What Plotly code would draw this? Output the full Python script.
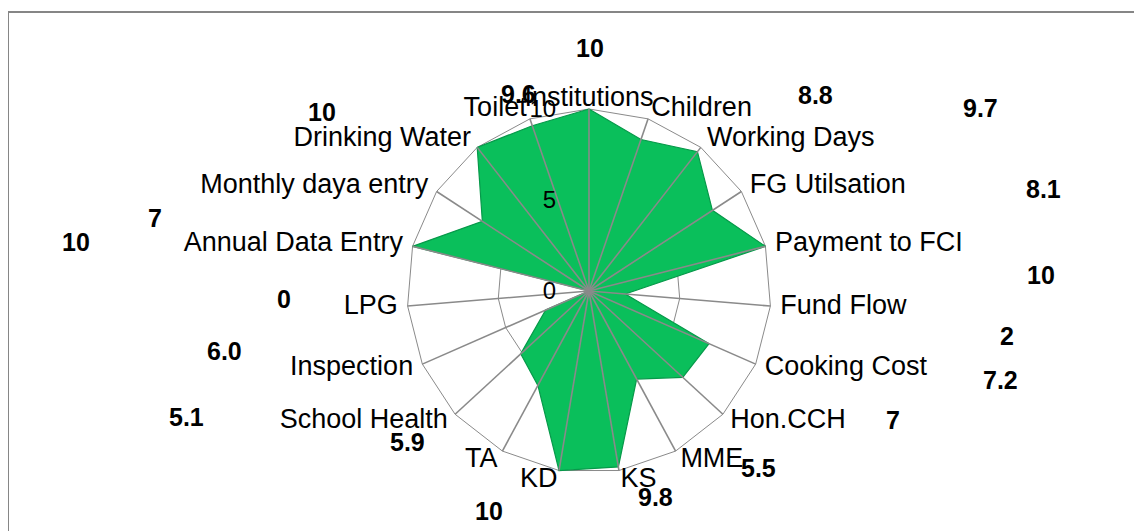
import plotly.graph_objects as go

# ---- data ----
categories = ["Institutions", "Children", "Working Days", "FG Utilsation", "Payment to FCI",
              "Fund Flow", "Cooking Cost", "Hon.CCH", "MME", "KS", "KD", "TA",
              "School Health", "Inspection", "LPG", "Annual Data Entry",
              "Monthly daya entry", "Drinking Water", "Toilet"]
values = [10, 8.8, 9.7, 8.1, 10, 2, 7.2, 7, 5.5, 9.8, 10, 5.9, 5.1, 2.6, 0, 10, 7, 10, 9.6]
label_text = ["10", "8.8", "9.7", "8.1", "10", "2", "7.2", "7", "5.5", "9.8", "10", "5.9",
              "5.1", "6.0", "0", "10", "7", "10", "9.6"]
radial_ticks = [0, 5, 10]

# ---- layout constants ----
W, H = 1142, 531
OFF = 8            # page body margin offset (screen px -> figure px)
CX, CY, R = 589, 291, 182   # screen pixels; R = pixel radius of the outer ring (r=10)
LABEL_PAD = 1.055  # category labels sit slightly outside the outer ring
RMAX = radial_ticks[-1] * LABEL_PAD
RD = R * LABEL_PAD  # pixel radius of the whole polar area
# data label positions (screen pixels from top-left), one per category
label_pos_px = [(590, 48), (815, 95), (980, 108), (1043, 189), (1041, 275), (1007, 336),
                (1000, 380), (893, 420), (758, 468), (655, 497), (489, 511), (407, 442),
                (186, 417), (224, 351), (284, 299), (76, 242), (155, 218), (322, 112),
                (518, 94)]


def fx(px):
    return (px - OFF) / W


def fy(py):
    return 1 - (py - OFF) / H


GRID = "#8A8A8A"
GREEN = "#0ABF5B"
FONT = "Arial, Liberation Sans, sans-serif"


def cat_textpos(i, n):
    a = 360.0 * i / n
    if a < 1 or a > 359 or abs(a - 180) < 1:
        return "middle center"
    return "middle right" if a < 180 else "middle left"


fig = go.Figure()

fig.add_trace(go.Scatterpolar(
    r=values + [values[0]],
    theta=categories + [categories[0]],
    mode="lines",
    fill="toself",
    fillcolor=GREEN,
    line=dict(color="#07994A", width=1.2),
    hoverinfo="skip",
    showlegend=False,
))

# spokes drawn above the fill
for c in categories:
    fig.add_trace(go.Scatterpolar(
        r=[radial_ticks[0], radial_ticks[-1]],
        theta=[c, c],
        mode="lines",
        line=dict(color=GRID, width=1.6),
        hoverinfo="skip",
        showlegend=False,
    ))

# category labels just outside the outer ring
fig.add_trace(go.Scatterpolar(
    r=[RMAX] * len(categories),
    theta=categories,
    mode="text",
    text=categories,
    textposition=[cat_textpos(i, len(categories)) for i in range(len(categories))],
    textfont=dict(size=27, family=FONT, color="black"),
    cliponaxis=False,
    hoverinfo="skip",
    showlegend=False,
))

fig.update_layout(
    width=W, height=H,
    margin=dict(l=0, r=0, t=0, b=0),
    paper_bgcolor="white",
    plot_bgcolor="white",
    font=dict(family=FONT, color="black"),
    showlegend=False,
    polar=dict(
        domain=dict(x=[fx(CX - RD), fx(CX + RD)],
                    y=[fy(CY + RD), fy(CY - RD)]),
        bgcolor="rgba(0,0,0,0)",
        gridshape="linear",
        angularaxis=dict(
            rotation=90,
            direction="clockwise",
            categoryorder="array",
            categoryarray=categories,
            showline=False,
            showgrid=False,
            ticks="",
            showticklabels=False,
        ),
        radialaxis=dict(
            range=[radial_ticks[0], RMAX],
            tickvals=radial_ticks,
            ticktext=[str(t) for t in radial_ticks],
            angle=90,
            tickangle=90,
            side="counterclockwise",
            showline=False,
            ticks="outside",
            ticklen=24,
            tickcolor="rgba(0,0,0,0)",
            gridcolor=GRID,
            gridwidth=1.4,
            tickfont=dict(size=24, family=FONT, color="black"),
        ),
    ),
)

for txt, (px, py) in zip(label_text, label_pos_px):
    fig.add_annotation(
        x=fx(px), y=fy(py), xref="paper", yref="paper",
        text="<b>%s</b>" % txt, showarrow=False,
        font=dict(size=25, family=FONT, color="black"),
        xanchor="center", yanchor="middle",
    )

# chart frame (open at right/bottom, like the reference crop)
fig.add_shape(type="rect", xref="paper", yref="paper",
              x0=fx(8), x1=1.02, y0=-0.02, y1=fy(12),
              line=dict(color="#868686", width=2), layer="below")

fig.write_html("out.html")
